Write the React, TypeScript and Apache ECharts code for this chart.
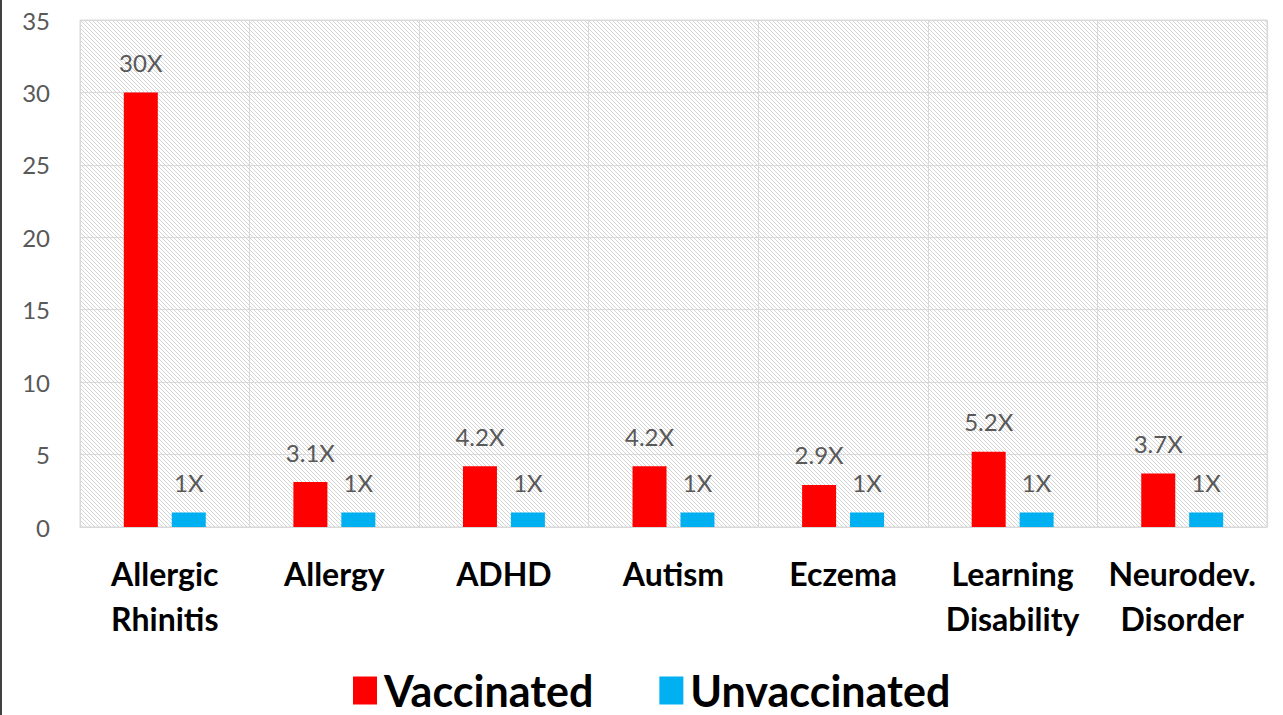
import React, { useEffect, useRef } from "react";
import * as echarts from "echarts";

const categories = [
  "Allergic\nRhinitis",
  "Allergy",
  "ADHD",
  "Autism",
  "Eczema",
  "Learning\nDisability",
  "Neurodev.\nDisorder",
];
const vaccinated = [30, 3.1, 4.2, 4.2, 2.9, 5.2, 3.7];
const unvaccinated = [1, 1, 1, 1, 1, 1, 1];
const seriesNames = ["Vaccinated", "Unvaccinated"];
const yTicks = { min: 0, max: 35, interval: 5 };

function makeHatch() {
  const c = document.createElement("canvas");
  const n = 4;
  c.width = n;
  c.height = n;
  const ctx = c.getContext("2d")!;
  ctx.fillStyle = "#ffffff";
  ctx.fillRect(0, 0, n, n);
  for (let i = 0; i < n; i++) {
    ctx.fillStyle = "#d4d4d4";
    ctx.fillRect(i, i, 1, 1);
  }
  return c;
}

export default function App() {
  const ref = useRef<HTMLDivElement>(null);
  useEffect(() => {
    if (!ref.current) return;
    const chart = echarts.init(ref.current, undefined, { renderer: "svg" });
    const hatch = makeHatch();
    const font = "Lato, 'Noto Sans', sans-serif";
    const labelStyle = {
      show: true,
      position: "top" as const,
      distance: 18,
      color: "#595959",
      fontSize: 24,
      fontFamily: font,
      formatter: (p: any) => `${p.value}X`,
    };
    chart.setOption({
      animation: false,
      backgroundColor: "#ffffff",
      textStyle: { fontFamily: font },
      grid: {
        left: 80,
        right: 16,
        top: 20,
        bottom: 188,
        show: true,
        borderColor: "#d9d9d9",
        borderWidth: 1,
        backgroundColor: {
          image: hatch,
          repeat: "repeat",
          imageWidth: 4,
          imageHeight: 4,
        } as any,
      },
      legend: {
        left: 348,
        top: 664,
        itemWidth: 24,
        itemHeight: 28,
        itemGap: 66,
        icon: "rect",
        textStyle: {
          fontFamily: font,
          fontSize: 43,
          fontWeight: "bold",
          color: "#000000",
          lineHeight: 43,
          padding: [0, 0, 0, 2],
        },
        data: seriesNames,
      },
      xAxis: {
        type: "category",
        data: categories,
        axisLine: { show: true, lineStyle: { color: "#d9d9d9", width: 1 } },
        axisTick: { show: false },
        splitLine: { show: true, lineStyle: { color: "#d9d9d9", width: 1 } },
        axisLabel: {
          interval: 0,
          margin: 24,
          fontFamily: font,
          fontSize: 32,
          fontWeight: "bold",
          color: "#000000",
          lineHeight: 45,
        },
      },
      yAxis: {
        type: "value",
        min: yTicks.min,
        max: yTicks.max,
        interval: yTicks.interval,
        axisLine: { show: false },
        axisTick: { show: false },
        splitLine: { show: true, lineStyle: { color: "#d9d9d9", width: 1 } },
        axisLabel: {
          margin: 30,
          fontFamily: font,
          fontSize: 24,
          color: "#595959",
        },
      },
      series: [
        {
          name: seriesNames[0],
          type: "bar",
          data: vaccinated,
          barWidth: 34,
          barGap: "41%",
          itemStyle: { color: "#ff0000" },
          label: labelStyle,
        },
        {
          name: seriesNames[1],
          type: "bar",
          data: unvaccinated,
          barWidth: 34,
          itemStyle: { color: "#00b0f0" },
          label: labelStyle,
        },
      ],
      graphic: [
        {
          type: "rect",
          left: 0,
          top: 0,
          shape: { width: 2, height: 715 },
          style: { fill: "#404040" },
        },
      ],
    });
    return () => chart.dispose();
  }, []);
  return (
    <div
      ref={ref}
      style={{ position: "fixed", left: 0, top: 0, width: 1283, height: 715 }}
    />
  );
}
